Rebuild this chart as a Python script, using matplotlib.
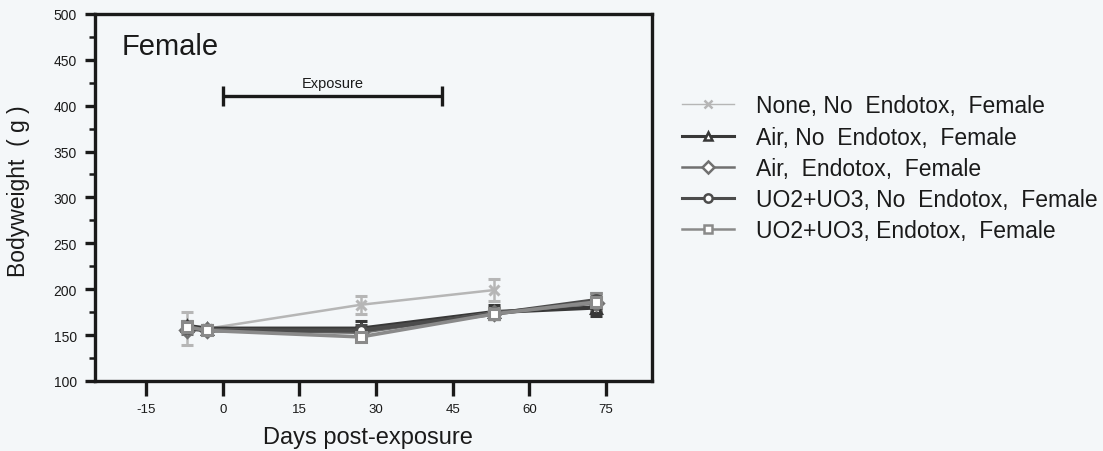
import numpy as np
import matplotlib
matplotlib.use("Agg")
import matplotlib.pyplot as plt
from matplotlib.ticker import MultipleLocator
from matplotlib.lines import Line2D

plt.rcParams['font.family'] = ['Liberation Sans', 'DejaVu Sans']
plt.rcParams['axes.unicode_minus'] = False

days = [-7, -3, 27, 53, 73]

# mean bodyweight (g) per group, nan = no measurement
none_noendo = [157, 157, 183, 199, np.nan]
none_noendo_err = [18, 4, 10, 12, 0]
air_noendo = [160, 157, 157, 175, 180]
air_noendo_err = [5, 4, 8, 8, 9]
air_endo = [156, 156, 153, 174, 185]
air_endo_err = [5, 4, 6, 6, 8]
uo_noendo = [158, 155, 155, 173, 188]
uo_noendo_err = [5, 4, 6, 6, 8]
uo_endo = [159, 155, 148, 173, 186]
uo_endo_err = [6, 4, 5, 6, 10]

labels = ["None, No  Endotox,  Female",
          "Air, No  Endotox,  Female",
          "Air,  Endotox,  Female",
          "UO2+UO3, No  Endotox,  Female",
          "UO2+UO3, Endotox,  Female"]

exposure_start, exposure_end, exposure_y = 0, 43, 410

series = [
    (none_noendo, none_noendo_err, '#b6b6b6', 'x', 1.8),
    (air_noendo, air_noendo_err, '#383838', '^', 3),
    (air_endo, air_endo_err, '#707070', 'D', 2.6),
    (uo_noendo, uo_noendo_err, '#4c4c4c', 'o', 3),
    (uo_endo, uo_endo_err, '#8a8a8a', 's', 2.6),
]

bg = '#f4f7f9'
fig = plt.figure(figsize=(11.03, 4.52), dpi=100, facecolor=bg)
ax = fig.add_axes([0.0861, 0.155, 0.505, 0.812])
ax.set_facecolor(bg)

handles = []
for (vals, errs, col, mk, lw), lab in zip(series, labels):
    v = np.array(vals, dtype=float)
    ok = ~np.isnan(v)
    x = np.array(days)[ok]
    ax.errorbar(x, v[ok], yerr=np.array(errs)[ok], color=col, lw=lw,
                marker=mk, ms=7,
                mfc='white' if mk != 'x' else col,
                mec=col, mew=2.2, capsize=4, elinewidth=1.8, capthick=1.8)
    handles.append(Line2D([], [], color=col, lw=lw - 0.8, marker=mk, ms=6,
                          mfc='white' if mk != 'x' else col, mec=col, mew=1.8))

ax.set_xlim(-25, 84)
ax.set_ylim(100, 500)
ax.xaxis.set_major_locator(MultipleLocator(15))
ax.yaxis.set_major_locator(MultipleLocator(50))
ax.yaxis.set_minor_locator(MultipleLocator(25))
ax.tick_params(axis='x', direction='out', length=11, width=2.4, labelsize=9.5,
               pad=5, colors='#1a1a1a')
ax.tick_params(axis='y', which='major', direction='out', length=7, width=2.4,
               labelsize=10, pad=6, colors='#1a1a1a')
ax.tick_params(axis='y', which='minor', direction='out', length=4.5, width=1.8,
               colors='#1a1a1a')
for s in ax.spines.values():
    s.set_linewidth(2.4)
    s.set_color('#1a1a1a')

ax.set_xlabel('Days post-exposure', fontsize=17, color='#1a1a1a')
ax.xaxis.set_label_coords(0.49, -0.122)
ax.set_ylabel('Bodyweight  ( g )', fontsize=16.5, color='#1a1a1a')
ax.yaxis.set_label_coords(-0.117, 0.52)

ax.text(0.047, 0.95, 'Female', transform=ax.transAxes, fontsize=21,
        ha='left', va='top', color='#1a1a1a')

# exposure period bar
ax.errorbar([(exposure_start + exposure_end) / 2], [exposure_y],
            xerr=[(exposure_end - exposure_start) / 2], color='#1a1a1a',
            capsize=7, elinewidth=2.4, capthick=2.4, fmt='none')
ax.text((exposure_start + exposure_end) / 2, exposure_y + 7, 'Exposure',
        fontsize=10.5, ha='center', va='bottom', color='#1a1a1a')

fig.legend(handles=handles, labels=labels, loc='upper left',
           bbox_to_anchor=(0.618, 0.789), frameon=False, fontsize=16.5,
           handlelength=2.3, handletextpad=0.95, labelspacing=0.36,
           borderpad=0, borderaxespad=0, labelcolor='#1a1a1a')

fig.savefig('out.png', dpi=100, facecolor=bg)
